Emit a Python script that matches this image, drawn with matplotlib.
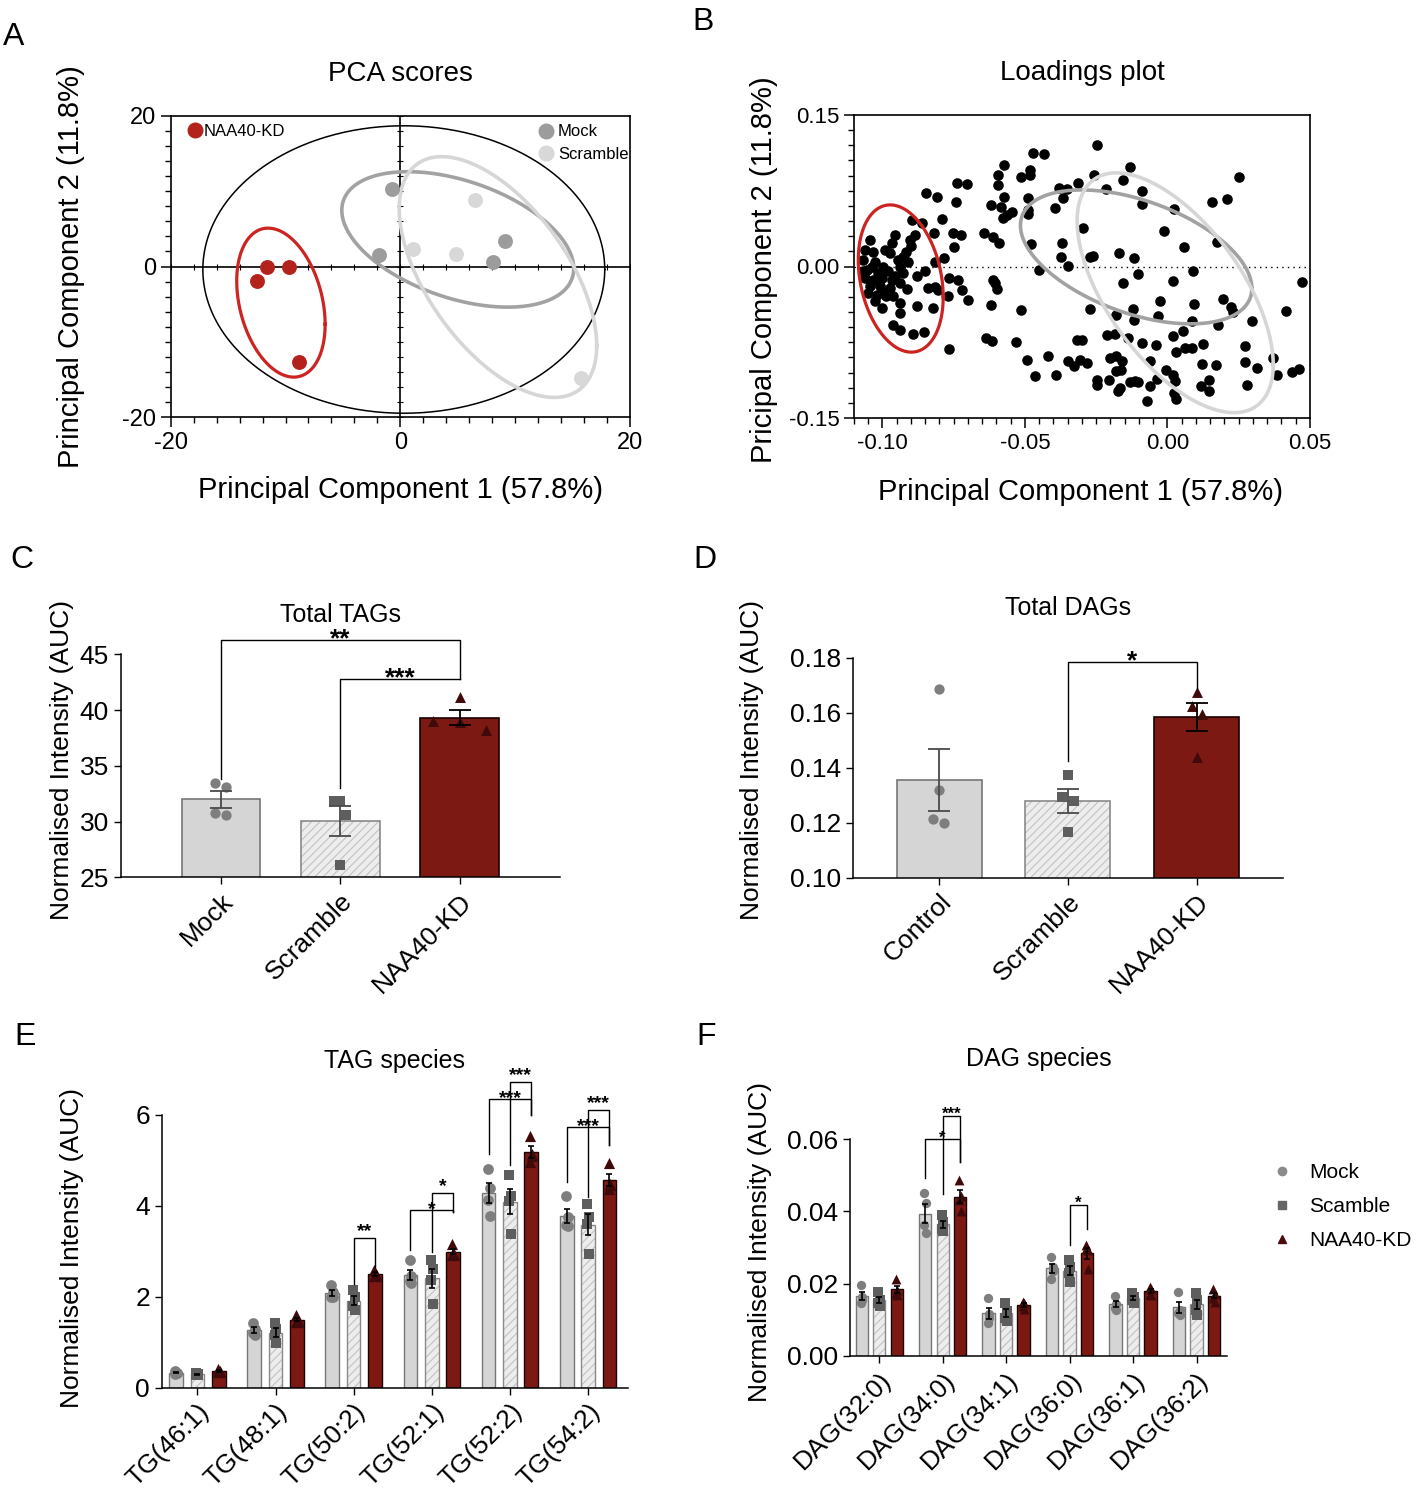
import numpy as np
import matplotlib
matplotlib.use('Agg')
import matplotlib.pyplot as plt
from matplotlib.lines import Line2D
from matplotlib.ticker import MultipleLocator, FormatStrFormatter

plt.rcParams['font.family'] = ['Liberation Sans', 'DejaVu Sans']
plt.rcParams['axes.unicode_minus'] = False
plt.rcParams['hatch.linewidth'] = 0.8

# ---------------- data ----------------
# A: PCA scores (PC1, PC2)
naa_pc1 = [-12.5, -11.6, -9.7, -8.8]
naa_pc2 = [-1.9, 0.0, 0.0, -12.7]
mock_pc1 = [-0.75, -1.9, 9.1, 8.05]
mock_pc2 = [10.25, 1.5, 3.4, 0.6]
scr_pc1 = [6.5, 1.1, 4.85, 15.7]
scr_pc2 = [8.8, 2.3, 1.7, -14.8]
# ellipses: centre x, centre y, half-width x, half-height y, correlation
ell_all = (0.3, -0.4, 17.5, 19.1, 0.0)
ell_naa = (-10.4, -4.8, 3.85, 9.9, -0.29)
ell_mock = (5.0, 3.6, 10.1, 9.0, -0.43)
ell_scr = (8.5, -1.4, 8.6, 16.0, -0.57)

# B: loadings
load_pc1 = [-0.0249, -0.0473, -0.0432, -0.0132, -0.0573, -0.0482, -0.0596, -0.0514, -0.0482, -0.0258,
            0.0251, -0.0740, -0.0705, -0.0596, -0.0155, -0.0313, -0.0381, -0.0354, -0.0217, -0.0088,
            -0.0573, -0.0491, -0.0366, 0.0155, 0.0210, -0.0620, -0.0585, -0.0088, 0.0024, -0.0395,
            -0.0491, -0.0547, -0.0564, -0.0578, -0.0488, -0.0295, -0.0012, -0.0644, -0.0611, -0.0591,
            -0.0479, -0.0369, 0.0173, 0.0059, -0.0169, -0.0373, -0.0272, -0.0263, -0.0118, -0.0348,
            -0.0450, -0.0105, 0.0091, -0.0155, 0.0020, 0.0473, -0.0611, -0.0605, -0.0599, -0.0026,
            0.0196, 0.0094, 0.0223, 0.0229, 0.0415, -0.0620, -0.0515, -0.0272, -0.0120, -0.0182,
            -0.0032, -0.0117, 0.0087, 0.0295, 0.0176, 0.0054, 0.0020, -0.0213, -0.0184, -0.0140,
            -0.0319, -0.0299, -0.0091, -0.0042, -0.0636, -0.0617, -0.0532, 0.0029, 0.0061, 0.0087,
            0.0126, 0.0272, 0.0371, -0.0418, -0.0494, -0.0348, -0.0327, -0.0307, -0.0284, -0.0202,
            -0.0181, -0.0161, -0.0061, 0.0120, 0.0169, 0.0272, 0.0313, -0.0181, -0.0163, -0.0006,
            0.0020, 0.0383, 0.0438, 0.0461, -0.0465, -0.0392, -0.0249, -0.0249, -0.0205, -0.0132,
            -0.0114, -0.0102, 0.0026, 0.0146, 0.0118, 0.0146, -0.0061, -0.0174, -0.0166, 0.0278,
            -0.0073, 0.0029, 0.0024, -0.0038,
            -0.0847, -0.0808, -0.0742, -0.0898, -0.0863, -0.0791, -0.0820, -0.0754, -0.0725, -0.0748,
            -0.0956, -0.0886, -0.1044, -0.0968, -0.0904, -0.0900, -0.0918, -0.0927, -0.1061, -0.1032,
            -0.0991, -0.0973, -0.1067, -0.1026, -0.0997, -0.1056, -0.0938, -0.0909, -0.0816, -0.0784,
            -0.0851, -0.0927, -0.1061, -0.1032, -0.1003, -0.0968, -0.0938, -0.1044, -0.1009, -0.0973,
            -0.0915, -0.1050, -0.1021, -0.0986, -0.0962, -0.0839, -0.0816, -0.0804, -0.0765, -0.0734,
            -0.0722, -0.0770, -0.0699, -0.1026, -0.1003, -0.0938, -0.0938, -0.0880, -0.0824, -0.0962,
            -0.0938, -0.0892, -0.0856, -0.0765, -0.1015, -0.0980, -0.0956, -0.0997, -0.1038, -0.1067,
            -0.0944, -0.0880]
load_pc2 = [0.1203, 0.1128, 0.1111, 0.0989, 0.1006, 0.0956, 0.0907, 0.0884, 0.0907, 0.0907,
            0.0884, 0.0824, 0.0818, 0.0808, 0.0857, 0.0831, 0.0775, 0.0765, 0.0765, 0.0748,
            0.0686, 0.0676, 0.0676, 0.0643, 0.0669, 0.0610, 0.0593, 0.0620, 0.0567, 0.0577,
            0.0561, 0.0544, 0.0511, 0.0478, 0.0521, 0.0379, 0.0353, 0.0330, 0.0297, 0.0237,
            0.0224, 0.0237, 0.0247, 0.0198, 0.0132, 0.0099, 0.0099, 0.0106, 0.0082, 0.0007,
            -0.0033, -0.0073, -0.0043, -0.0165, -0.0148, -0.0155, -0.0132, -0.0165, -0.0224, -0.0340,
            -0.0320, -0.0373, -0.0402, -0.0452, -0.0439, -0.0386, -0.0435, -0.0422, -0.0419, -0.0485,
            -0.0495, -0.0534, -0.0537, -0.0544, -0.0577, -0.0643, -0.0692, -0.0676, -0.0666, -0.0709,
            -0.0732, -0.0732, -0.0758, -0.0781, -0.0709, -0.0735, -0.0748, -0.0847, -0.0808, -0.0808,
            -0.0768, -0.0791, -0.0907, -0.0884, -0.0923, -0.0933, -0.0989, -0.0923, -0.0956, -0.0907,
            -0.0890, -0.0940, -0.0933, -0.0966, -0.0973, -0.0946, -0.1006, -0.1039, -0.1029, -0.1022,
            -0.1072, -0.1072, -0.1045, -0.1015, -0.1081, -0.1072, -0.1121, -0.1170, -0.1121, -0.1147,
            -0.1137, -0.1147, -0.1137, -0.1121, -0.1180, -0.1230, -0.1180, -0.1236, -0.1203, -0.1170,
            -0.1329, -0.1312, -0.1253, -0.1114,
            0.0732, 0.0686, 0.0643, 0.0462, 0.0429, 0.0468, 0.0336, 0.0330, 0.0313, 0.0191,
            0.0313, 0.0313, 0.0264, 0.0231, 0.0264, 0.0204, 0.0148, 0.0099, 0.0165, 0.0148,
            0.0165, 0.0132, 0.0066, 0.0049, -0.0007, -0.0033, 0.0000, 0.0049, 0.0049, 0.0082,
            -0.0040, -0.0066, -0.0115, -0.0132, -0.0115, -0.0132, -0.0165, -0.0198, -0.0198, -0.0214,
            -0.0224, -0.0264, -0.0280, -0.0297, -0.0297, -0.0214, -0.0204, -0.0231, -0.0115, -0.0132,
            -0.0231, -0.0290, -0.0330, -0.0346, -0.0412, -0.0363, -0.0462, -0.0396, -0.0412, -0.0577,
            -0.0626, -0.0666, -0.0653, -0.0818, -0.0066, -0.0049, -0.0099, -0.0231, 0.0000, -0.0049,
            0.0066, -0.0099]
lell_naa = (-0.0936, -0.0119, 0.0149, 0.0729, -0.25)
lell_mock = (-0.011, 0.0095, 0.0406, 0.0663, -0.47)
lell_scr = (0.0027, -0.026, 0.0344, 0.1187, -0.60)

# C: total TAGs
tags_groups = ['Mock', 'Scramble', 'NAA40-KD']
tags_mock = [33.45, 33.1, 30.8, 30.6]
tags_scr = [31.8, 31.8, 30.6, 26.1]
tags_naa = [41.2, 39.0, 38.9, 38.2]
tags_sig = [(0, 2, 46.3, 33.8, 42.8, '**'), (1, 2, 42.8, 33.0, 42.8, '***')]

# D: total DAGs
dags_groups = ['Control', 'Scramble', 'NAA40-KD']
dags_ctrl = [0.1686, 0.1319, 0.1213, 0.1200]
dags_scr = [0.1373, 0.1295, 0.1280, 0.1167]
dags_naa = [0.1674, 0.1624, 0.1595, 0.1438]
dags_sig = [(1, 2, 0.1783, 0.1424, 0.1689, '*')]

# E: TAG species
tag_species = ['TG(46:1)', 'TG(48:1)', 'TG(50:2)', 'TG(52:1)', 'TG(52:2)', 'TG(54:2)']
tag_mock = [[0.36, 0.33, 0.30, 0.32], [1.42, 1.30, 1.20, 1.15], [2.25, 2.10, 2.00, 2.00],
            [2.81, 2.45, 2.35, 2.30], [4.82, 4.40, 4.13, 3.78], [4.22, 3.76, 3.58, 3.56]]
tag_scr = [[0.33, 0.30, 0.28, 0.29], [1.42, 1.30, 1.15, 0.98], [2.15, 2.00, 1.80, 1.70],
           [2.80, 2.62, 2.38, 1.84], [4.68, 4.22, 4.10, 3.38], [4.05, 3.76, 3.60, 2.94]]
tag_naa = [[0.42, 0.36, 0.35, 0.35], [1.60, 1.50, 1.45, 1.45], [2.60, 2.50, 2.45, 2.45],
           [3.17, 2.95, 2.93, 2.92], [5.54, 5.14, 4.97, 5.10], [4.95, 4.49, 4.38, 4.45]]
tag_sig = [(2, 1, 2, 3.30, 2.29, 2.66, '**'), (3, 0, 2, 3.91, 3.03, 3.87, '*'),
           (3, 1, 2, 4.29, 2.99, 3.87, '*'), (4, 0, 2, 6.35, 5.15, 6.00, '***'),
           (4, 1, 2, 6.73, 4.90, 6.00, '***'), (5, 0, 2, 5.73, 4.53, 5.34, '***'),
           (5, 1, 2, 6.11, 4.20, 5.34, '***')]

# F: DAG species
dag_species = ['DAG(32:0)', 'DAG(34:0)', 'DAG(34:1)', 'DAG(36:0)', 'DAG(36:1)', 'DAG(36:2)']
dag_mock = [[0.0196, 0.0164, 0.0145, 0.0155], [0.0452, 0.0422, 0.0362, 0.0341],
            [0.0159, 0.0117, 0.0090, 0.0104], [0.0274, 0.0247, 0.0212, 0.0235],
            [0.0165, 0.0143, 0.0133, 0.0128], [0.0177, 0.0128, 0.0118, 0.0113]]
dag_scr = [[0.0178, 0.0155, 0.0145, 0.0139], [0.0390, 0.0370, 0.0350, 0.0346],
           [0.0145, 0.0125, 0.0105, 0.0095], [0.0265, 0.0245, 0.0230, 0.0204],
           [0.0173, 0.0162, 0.0155, 0.0146], [0.0173, 0.0155, 0.0128, 0.0112]]
dag_naa = [[0.0212, 0.0182, 0.0175, 0.0167], [0.0487, 0.0443, 0.0432, 0.0402],
           [0.0150, 0.0145, 0.0138, 0.0129], [0.0307, 0.0293, 0.0295, 0.0240],
           [0.0191, 0.0185, 0.0172, 0.0168], [0.0184, 0.0170, 0.0160, 0.0150]]
dag_sig = [(1, 0, 2, 0.0601, 0.0494, 0.0538, '*'), (1, 1, 2, 0.0665, 0.0448, 0.0538, '***'),
           (3, 1, 2, 0.0418, 0.0307, 0.0350, '*')]

# ---------------- styles ----------------
RED = '#b3221b'
C_MOCK, C_SCR, C_NAA = '#7e7e7e', '#5e5e5e', '#400a0a'
BAR_FACE = ['#d5d5d5', '#ededed', '#7d1913']
BAR_EDGE = ['#777777', '#8a8a8a', '#1a0000']
MARKERS = ['o', 's', '^']
PT_COL = [C_MOCK, C_SCR, C_NAA]

W, H = 1418, 1491
fig = plt.figure(figsize=(W / 100, H / 100), dpi=100)


def add_ax(l, t, r, b):
    return fig.add_axes([l / W, 1 - b / H, (r - l) / W, (b - t) / H])


def ellipse(ax, e, **kw):
    cx, cy, xh, yh, rho = e
    t = np.linspace(0, 2 * np.pi, 400)
    ax.plot(cx + xh * np.cos(t), cy + yh * (rho * np.cos(t) + np.sqrt(1 - rho ** 2) * np.sin(t)), **kw)


def bracket(ax, x1, x2, y, yl, yr, txt, fs, lift=0.5, lw=1.0):
    ax.plot([x1, x1, x2, x2], [yl, y, y, yr], color='k', lw=lw, clip_on=False, zorder=6)
    ax.annotate(txt, ((x1 + x2) / 2, y), xytext=(0, lift), textcoords='offset points',
                ha='center', va='center', fontsize=fs, fontweight='bold', annotation_clip=False)


def draw_bar(ax, x, h, w, k, lw):
    if k == 1:
        ax.bar(x, h, w, color=BAR_FACE[1], edgecolor='#c2c2c2', hatch='////', linewidth=0, zorder=1)
        ax.bar(x, h, w, fill=False, edgecolor=BAR_EDGE[1], linewidth=lw, zorder=2)
    else:
        ax.bar(x, h, w, color=BAR_FACE[k], edgecolor=BAR_EDGE[k], linewidth=lw, zorder=1)


def style_bar_axes(ax):
    for s in ['top', 'right']:
        ax.spines[s].set_visible(False)
    for s in ['left', 'bottom']:
        ax.spines[s].set_linewidth(1.1)
    ax.tick_params(direction='out', length=5, width=1.0, labelsize=19)


# ---------------- A ----------------
axA = add_ax(170.7, 116, 630, 417)
axA.set_xlim(-20, 20)
axA.set_ylim(-20, 20)
axA.axhline(0, color='k', lw=1.2, zorder=1)
axA.axvline(0, color='k', lw=1.2, zorder=1)
tk = np.arange(-20, 21, 2)
axA.plot(tk, np.zeros_like(tk), ls='none', marker='|', ms=5, mew=0.8, color='k')
axA.plot(np.zeros_like(tk), tk, ls='none', marker='_', ms=5, mew=0.8, color='k')
ellipse(axA, ell_all, color='k', lw=1.1)
ellipse(axA, ell_naa, color='#cc2420', lw=2.3)
ellipse(axA, ell_mock, color='#a2a2a2', lw=2.6)
ellipse(axA, ell_scr, color='#d6d6d6', lw=2.6)
axA.scatter(naa_pc1, naa_pc2, s=115, color=RED, zorder=4, linewidths=0)
axA.scatter(mock_pc1, mock_pc2, s=115, color='#9c9c9c', zorder=4, linewidths=0)
axA.scatter(scr_pc1, scr_pc2, s=115, color='#d8d8d8', zorder=4, linewidths=0)
axA.set_xticks([-20, 0, 20])
axA.set_yticks([-20, 0, 20])
axA.xaxis.set_minor_locator(MultipleLocator(2))
axA.yaxis.set_minor_locator(MultipleLocator(2))
axA.tick_params(which='major', length=7, width=1.1, labelsize=17)
axA.tick_params(which='minor', length=4, width=1.0)
for s in axA.spines.values():
    s.set_linewidth(1.2)
axA.set_title('PCA scores', fontsize=20, pad=25)
axA.set_xlabel('Principal Component 1 (57.8%)', fontsize=21)
axA.set_ylabel('Principal Component 2 (11.8%)', fontsize=21)
axA.xaxis.set_label_coords(0.5, -0.195)
axA.yaxis.set_label_coords(-0.187, 0.5)
lg1 = axA.legend(handles=[Line2D([], [], ls='none', marker='o', ms=10.5, color=RED, label='NAA40-KD')],
                 loc='upper left', bbox_to_anchor=(0.038, 0.975), frameon=False, fontsize=12,
                 handlelength=0.8, handletextpad=0.1, borderaxespad=0, borderpad=0)
axA.add_artist(lg1)
axA.legend(handles=[Line2D([], [], ls='none', marker='o', ms=10.5, color='#9c9c9c', label='Mock'),
                    Line2D([], [], ls='none', marker='o', ms=10.5, color='#d8d8d8', label='Scramble')],
           loc='upper right', bbox_to_anchor=(0.997, 0.972), frameon=False, fontsize=12,
           handlelength=0.8, handletextpad=0.35, borderaxespad=0, borderpad=0, labelspacing=0.45)

# ---------------- B ----------------
axB = add_ax(854, 115, 1310, 418)
axB.set_xlim(-0.11, 0.05)
axB.set_ylim(-0.15, 0.15)
axB.axhline(0, color='k', lw=1.0, ls=(0, (1, 3)), zorder=1)
ellipse(axB, lell_naa, color='#cc2420', lw=2.3, zorder=3)
ellipse(axB, lell_mock, color='#a2a2a2', lw=2.6, zorder=3)
ellipse(axB, lell_scr, color='#d6d6d6', lw=2.6, zorder=3)
axB.scatter(load_pc1, load_pc2, s=58, color='k', linewidths=0, zorder=2)
axB.set_xticks([-0.10, -0.05, 0.00, 0.05])
axB.set_yticks([-0.15, 0.00, 0.15])
axB.xaxis.set_major_formatter(FormatStrFormatter('%.2f'))
axB.yaxis.set_major_formatter(FormatStrFormatter('%.2f'))
axB.xaxis.set_minor_locator(MultipleLocator(0.005))
axB.yaxis.set_minor_locator(MultipleLocator(0.015))
axB.tick_params(which='major', length=7, width=1.1, labelsize=16)
axB.tick_params(which='minor', length=4, width=1.0)
for s in axB.spines.values():
    s.set_linewidth(1.2)
axB.set_title('Loadings plot', fontsize=20, pad=25)
axB.set_xlabel('Principal Component 1 (57.8%)', fontsize=21)
axB.set_ylabel('Pricipal Component 2 (11.8%)', fontsize=21)
axB.xaxis.set_label_coords(0.497, -0.198)
axB.yaxis.set_label_coords(-0.167, 0.49)

# ---------------- C / D ----------------
jit_C = [[-0.05, 0.04, -0.05, 0.04], [-0.05, 0.0, 0.05, 0.0], [0.0, -0.22, 0.0, 0.22]]
jit_D = [[0.0, 0.0, -0.05, 0.04], [0.0, -0.045, 0.045, 0.0], [0.0, -0.04, 0.045, 0.0]]


def total_panel(ax, groups, series, jit, sig, star_fs):
    for k, pts in enumerate(series):
        m = np.mean(pts)
        se = np.std(pts, ddof=1) / np.sqrt(len(pts))
        draw_bar(ax, k, m, 0.66, k, 1.2)
        ax.scatter(k + np.array(jit[k]), pts, marker=MARKERS[k], s=[55, 50, 62][k],
                   color=PT_COL[k], linewidths=0, zorder=3)
        ax.errorbar(k, m, yerr=se, color='k' if k == 2 else '#4a4a4a', capsize=8,
                    elinewidth=1.3, capthick=1.3, zorder=4)
    for x1, x2, y, yl, yr, t in sig:
        bracket(ax, x1, x2, y, yl, yr, t, star_fs)
    ax.set_xticks(range(len(groups)))
    ax.set_xticklabels(groups, rotation=45, ha='right', rotation_mode='anchor')
    style_bar_axes(ax)


axC = add_ax(120.7, 654.3, 560, 877.3)
total_panel(axC, tags_groups, [tags_mock, tags_scr, tags_naa], jit_C, tags_sig, 19)
axC.set_xlim(-0.84, 2.84)
axC.set_ylim(25, 45)
axC.set_yticks([25, 30, 35, 40, 45])
axC.set_title('Total TAGs', fontsize=18, pad=23)
axC.set_ylabel('Normalised Intensity (AUC)', fontsize=19)
axC.yaxis.set_label_coords(-0.106, 0.526)

axD = add_ax(852.7, 657.7, 1283, 877.7)
total_panel(axD, dags_groups, [dags_ctrl, dags_scr, dags_naa], jit_D, dags_sig, 19)
axD.set_xlim(-0.67, 2.67)
axD.set_ylim(0.10, 0.18)
axD.set_yticks([0.10, 0.12, 0.14, 0.16, 0.18])
axD.yaxis.set_major_formatter(FormatStrFormatter('%.2f'))
axD.set_title('Total DAGs', fontsize=18, pad=31)
axD.set_ylabel('Normalised Intensity (AUC)', fontsize=19)
axD.yaxis.set_label_coords(-0.206, 0.535)

# ---------------- E / F ----------------
jit_sp = [-0.012, 0.012, -0.012, 0.012]


def species_panel(ax, names, series, off, width, sizes, sig, star_fs, upper_lift):
    for g in range(len(names)):
        for k in range(3):
            pts = series[k][g]
            x = g + off[k]
            m = np.mean(pts)
            se = np.std(pts, ddof=1) / np.sqrt(len(pts))
            draw_bar(ax, x, m, width, k, 1.0)
            ax.scatter(x + np.array(jit_sp), pts, marker=MARKERS[k], s=sizes[k],
                       color=PT_COL[k], linewidths=0, zorder=3)
            ax.errorbar(x, m, yerr=se, color='k', capsize=2, elinewidth=1.2,
                        capthick=1.2, zorder=4)
    for g, i1, i2, y, yl, yr, t in sig:
        lift = upper_lift if i1 == 1 else 0.5
        bracket(ax, g + off[i1], g + off[i2], y, yl, yr, t, star_fs, lift=lift)
    ax.set_xticks(range(len(names)))
    ax.set_xticklabels(names, rotation=45, ha='right', rotation_mode='anchor')
    style_bar_axes(ax)


axE = add_ax(161.7, 1115, 628, 1387.7)
species_panel(axE, tag_species, [tag_mock, tag_scr, tag_naa], [-0.273, 0.0, 0.273], 0.175,
              [60, 55, 65], tag_sig, 14, 4.5)
axE.set_xlim(-0.456, 5.51)
axE.set_ylim(0, 6)
axE.set_yticks([0, 2, 4, 6])
axE.set_title('TAG species', fontsize=18, pad=34)
axE.set_ylabel('Normalised Intensity (AUC)', fontsize=19)
axE.yaxis.set_label_coords(-0.167, 0.514)

axF = add_ax(850, 1139.3, 1227, 1355.7)
species_panel(axF, dag_species, [dag_mock, dag_scr, dag_naa], [-0.276, 0.0, 0.276], 0.194,
              [45, 42, 50], dag_sig, 12, 1.0)
axF.set_xlim(-0.46, 5.48)
axF.set_ylim(0, 0.06)
axF.set_yticks([0.00, 0.02, 0.04, 0.06])
axF.yaxis.set_major_formatter(FormatStrFormatter('%.2f'))
axF.set_title('DAG species', fontsize=18, pad=53)
axF.set_ylabel('Normalised Intensity (AUC)', fontsize=19)
axF.yaxis.set_label_coords(-0.207, 0.525)

fig.legend(handles=[Line2D([], [], ls='none', marker='o', ms=6, color='#8a8a8a', label='Mock'),
                    Line2D([], [], ls='none', marker='s', ms=6, color='#666666', label='Scamble'),
                    Line2D([], [], ls='none', marker='^', ms=6, color='#4a0b0b', label='NAA40-KD')],
           loc='upper left', bbox_to_anchor=(1272 / W, 1 - 1163 / H), frameon=False, fontsize=15,
           handlelength=1.0, handletextpad=0.8, labelspacing=0.72, borderpad=0, borderaxespad=0)

# panel letters
for lab, x, y in [('A', 3, 45), ('B', 692, 30), ('C', 10, 568), ('D', 693, 568),
                  ('E', 14, 1045), ('F', 696, 1045)]:
    fig.text(x / W, 1 - y / H, lab, fontsize=23, va='baseline', ha='left')

fig.savefig('out.png', dpi=100)
